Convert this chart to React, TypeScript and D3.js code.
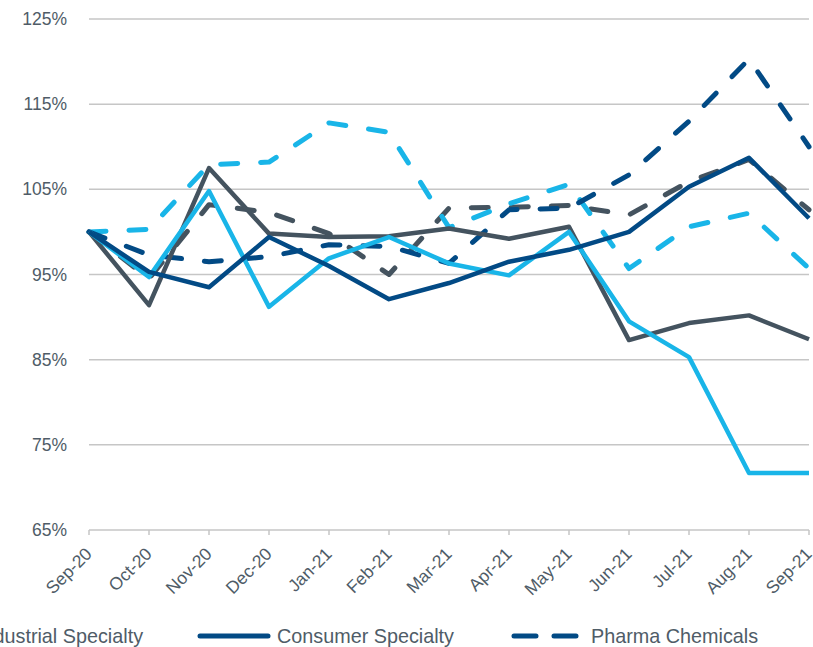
import React from "react";
import * as d3 from "d3";

const months = ["Sep-20", "Oct-20", "Nov-20", "Dec-20", "Jan-21", "Feb-21", "Mar-21", "Apr-21", "May-21", "Jun-21", "Jul-21", "Aug-21", "Sep-21"];
const yTicks = [65, 75, 85, 95, 105, 115, 125];

const industrialSpecialty = [100, 91.4, 107.5, 99.8, 99.4, 99.5, 100.4, 99.2, 100.6, 87.3, 89.3, 90.2, 87.4];
const consumerSpecialty = [100, 95.3, 93.5, 99.4, 96.0, 92.1, 94.0, 96.5, 97.9, 100.0, 105.3, 108.7, 101.6];
const lightBlueSolid = [100, 94.7, 104.8, 91.2, 96.9, 99.4, 96.3, 94.9, 100.0, 89.5, 85.3, 71.7, 71.7];
const pharmaChemicals = [100, 97.3, 96.5, 97.1, 98.5, 98.3, 96.3, 102.6, 102.8, 106.7, 113.0, 120.3, 110.0];
const lightBlueDashed = [100, 100.3, 107.9, 108.2, 112.8, 111.7, 100.5, 103.3, 105.6, 95.7, 100.6, 102.2, 95.7];
const grayDashed = [100, 94.5, 103.2, 102.3, 99.8, 95.0, 102.8, 102.9, 103.1, 102.0, 105.9, 108.5, 102.6];

const GRAY = "#44535f";
const NAVY = "#024a85";
const LIGHT = "#19b5e8";
const TEXT = "#4f5c67";
const FONT = "'Liberation Sans', Arial, sans-serif";

const series = [
  { key: "grayDashed", values: grayDashed, color: GRAY, dashed: true },
  { key: "lightBlueDashed", values: lightBlueDashed, color: LIGHT, dashed: true },
  { key: "pharmaChemicals", values: pharmaChemicals, color: NAVY, dashed: true },
  { key: "industrialSpecialty", values: industrialSpecialty, color: GRAY, dashed: false },
  { key: "lightBlueSolid", values: lightBlueSolid, color: LIGHT, dashed: false },
  { key: "consumerSpecialty", values: consumerSpecialty, color: NAVY, dashed: false },
];

const legendItems = [
  { label: "Industrial Specialty", color: GRAY, dashed: false, lineX: -100 },
  { label: "Consumer Specialty", color: NAVY, dashed: false, lineX: 200 },
  { label: "Pharma Chemicals", color: NAVY, dashed: true, lineX: 514 },
];

export default function App() {
  const W = 813, H = 647;
  const x = d3.scalePoint<string>().domain(months).range([89, 809]);
  const y = d3.scaleLinear().domain([65, 125]).range([530, 19]);
  const line = d3.line<number>().x((_, i) => x(months[i]) as number).y((d) => y(d));

  return (
    <div style={{ position: "absolute", left: 0, top: 0 }}>
      <svg width={W} height={H} style={{ display: "block", fontFamily: FONT }}>
        <rect width={W} height={H} fill="#ffffff" />
        {yTicks.map((t) => (
          <g key={t}>
            <line x1={89} x2={809} y1={y(t)} y2={y(t)} stroke="#c6c6c6" strokeWidth={1.5} />
            <text x={67} y={y(t)} dy="0.35em" textAnchor="end" fontSize={17.5} fill={TEXT}>{t}%</text>
          </g>
        ))}
        {months.map((m) => (
          <g key={m}>
            <line x1={x(m)} x2={x(m)} y1={530} y2={535} stroke="#c6c6c6" strokeWidth={1.5} />
            <text transform={`translate(${(x(m) as number) + 4},${555}) rotate(-45)`} textAnchor="end" fontSize={17.5} fill={TEXT}>{m}</text>
          </g>
        ))}
        {series.map((s) => (
          <path key={s.key} d={line(s.values) || ""} fill="none" stroke={s.color} strokeWidth={s.dashed ? 5 : 4.5}
            strokeDasharray={s.dashed ? "17,23" : undefined} strokeLinecap={s.dashed ? "round" : "butt"} strokeLinejoin="round" />
        ))}
        {legendItems.map((l) => (
          <g key={l.label}>
            <line x1={l.lineX} x2={l.lineX + 68} y1={636} y2={636} stroke={l.color} strokeWidth={5}
              strokeLinecap="round" strokeDasharray={l.dashed ? "22,18" : undefined} />
            <text x={l.lineX + 77} y={636} dy="0.35em" fontSize={19.8} fill={TEXT}>{l.label}</text>
          </g>
        ))}
      </svg>
    </div>
  );
}
